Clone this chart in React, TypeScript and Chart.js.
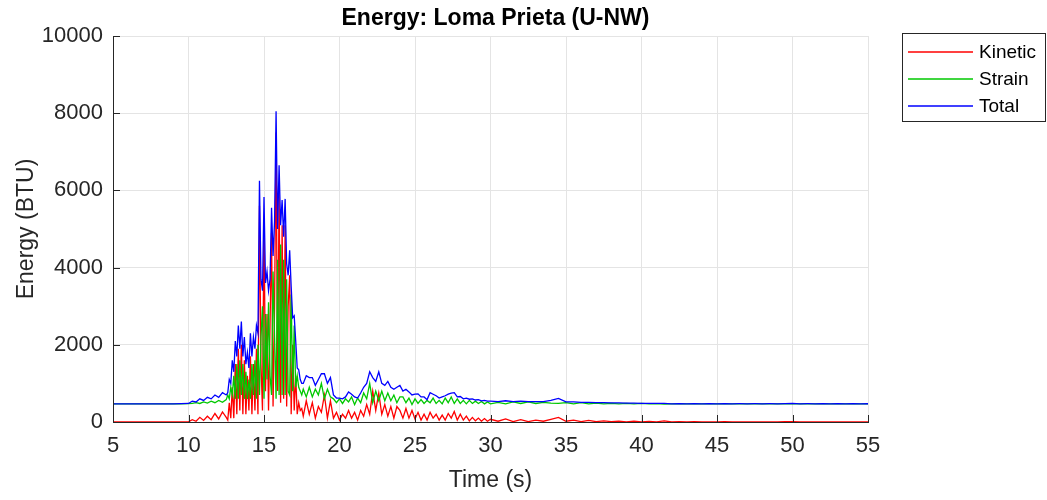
import React, { useEffect, useRef } from "react";
import { Chart, registerables } from "chart.js";

Chart.register(...registerables);

const chartTitle = "Energy: Loma Prieta (U-NW)";
const xAxisTitle = "Time (s)";
const yAxisTitle = "Energy (BTU)";
const seriesNames = ["Kinetic", "Strain", "Total"];
const seriesColors = ["#ff0000", "#00c800", "#0000ff"];
const xTickValues = [5, 10, 15, 20, 25, 30, 35, 40, 45, 50, 55];
const yTickValues = [0, 2000, 4000, 6000, 8000, 10000];

const time = [
  5, 5.5, 6, 6.5, 7, 7.5, 8, 8.5, 9, 9.5,
  10, 10.25, 10.5, 10.75, 11, 11.25, 11.5, 11.75, 12, 12.25, 12.5,
  12.6, 12.7, 12.8, 12.9, 13.0, 13.1, 13.2, 13.3, 13.4, 13.5,
  13.6, 13.7, 13.8, 13.9, 14.0, 14.1, 14.2, 14.3, 14.4, 14.5,
  14.6, 14.7, 14.8, 14.9, 15.0, 15.1, 15.2, 15.3, 15.4, 15.5,
  15.6, 15.7, 15.8, 15.9, 16.0, 16.1, 16.2, 16.3, 16.4, 16.5,
  16.6, 16.7, 16.8, 16.9, 17.0, 17.1, 17.2, 17.3, 17.4, 17.5,
  17.6, 17.8, 18.0, 18.2, 18.4, 18.6, 18.8, 19.0, 19.2, 19.4,
  19.6, 19.8, 20.0, 20.2, 20.4, 20.6, 20.8, 21.0, 21.2, 21.4,
  21.6, 21.8, 22.0, 22.2, 22.4, 22.6, 22.8, 23.0, 23.2, 23.4,
  23.6, 23.8, 24.0, 24.2, 24.4, 24.6, 24.8, 25.0, 25.2, 25.4,
  25.6, 25.8, 26.0, 26.2, 26.4, 26.6, 26.8, 27.0, 27.2, 27.4,
  27.6, 27.8, 28.0, 28.2, 28.4, 28.6, 28.8, 29.0, 29.2, 29.4,
  29.6, 29.8, 30.0,
  30.5, 31, 31.5, 32, 32.5, 33, 33.5, 34, 34.5, 35,
  35.5, 36, 36.5, 37, 37.5, 38, 38.5, 39, 39.5, 40,
  40.5, 41, 41.5, 42, 42.5, 43, 43.5, 44, 44.5, 45,
  45.5, 46, 46.5, 47, 47.5, 48, 48.5, 49, 49.5, 50,
  50.5, 51, 51.5, 52, 52.5, 53, 53.5, 54, 54.5, 55,
];

const kinetic = [
  0, 0, 0, 0, 0, 0, 0, 0, 0, 0,
  5, 60, 20, 120, 40, 150, 60, 220, 80, 260, 120,
  50, 500, 100, 900, 100, 1500, 200, 1900, 300, 2000,
  200, 1600, 200, 1200, 300, 1700, 200, 1500, 300, 1900,
  200, 5600, 1500, 300, 5200, 800, 2800, 300, 2500, 4900,
  400, 3000, 7500, 800, 6000, 500, 5100, 600, 5100, 400,
  3000, 3800, 200, 2000, 300, 1200, 200, 500, 300, 350,
  150, 550, 200, 500, 100, 400, 250, 700, 100, 550,
  100, 250, 50, 200, 100, 300, 100, 250, 50, 300,
  150, 450, 200, 800, 300, 750, 200, 450, 150, 400,
  100, 400, 300, 100, 350, 100, 300, 80, 250, 50,
  200, 50, 250, 100, 200, 50, 180, 50, 220, 100,
  270, 50, 200, 50, 150, 30, 120, 30, 100, 20,
  90, 20, 70,
  20, 80, 10, 60, 10, 50, 20, 70, 120, 20,
  50, 10, 40, 10, 30, 10, 25, 5, 20, 5,
  15, 5, 30, 0, 8, 0, 6, 0, 5, 0,
  8, 0, 5, 0, 5, 0, 4, 0, 8, 10,
  0, 4, 0, 3, 0, 3, 0, 2, 0, 2,
];

const strain = [
  470, 470, 470, 470, 470, 470, 470, 470, 470, 470,
  475, 480, 500, 480, 520, 490, 540, 500, 560, 510, 580,
  700, 600, 900, 700, 1200, 600, 1500, 600, 1600, 700,
  1500, 600, 1300, 600, 1100, 600, 1500, 700, 1600, 600,
  2000, 700, 2200, 3000, 600, 2800, 1100, 3100, 1200, 700,
  3900, 2200, 600, 4200, 700, 4600, 700, 4200, 700, 3700,
  800, 700, 3300, 800, 2500, 900, 1200, 900, 800, 700,
  850, 650, 900, 650, 850, 700, 1000, 600, 850, 650,
  600, 500, 600, 480, 600, 520, 650, 450, 620, 500,
  750, 600, 1000, 500, 800, 550, 800, 550, 750, 550,
  700, 500, 650, 650, 500, 620, 450, 600, 480, 580,
  480, 560, 500, 620, 480, 560, 470, 620, 500, 650,
  480, 600, 480, 560, 470, 560, 480, 540, 480, 530,
  470, 520, 470,
  510, 470, 520, 480, 520, 480, 510, 490, 480, 500,
  470, 500, 470, 490, 470, 485, 470, 485, 470, 480,
  470, 478, 465, 470, 468, 470, 468, 470, 469, 470,
  468, 470, 468, 470, 469, 470, 469, 470, 468, 468,
  470, 469, 470, 469, 470, 469, 470, 470, 470, 470,
];

const total = [
  470, 470, 470, 470, 470, 470, 470, 470, 470, 475,
  480, 540, 520, 600, 560, 640, 600, 700, 640, 760, 700,
  760, 1100, 1000, 1600, 1300, 2100, 1700, 2500, 1900, 2600,
  1700, 2200, 1500, 1800, 1400, 2300, 1700, 2200, 1900, 2500,
  2300, 6250, 3700, 3400, 5830, 3600, 3900, 3400, 3700, 5550,
  4300, 5200, 8050, 5000, 6650, 5100, 5750, 4800, 5780, 4100,
  3800, 4450, 3500, 2700, 2750, 2100, 1400, 1350, 1100, 1000,
  1000, 1200, 1150, 1150, 950, 1100, 1250, 1250, 1000, 1150,
  700, 620, 620, 600, 650, 780, 720, 650, 620, 750,
  900, 1000, 1300, 1150, 1050, 1300, 1000, 950, 1050, 900,
  850, 900, 950, 800, 850, 780, 700, 720, 730, 650,
  650, 580, 760, 720, 680, 620, 650, 680, 720, 750,
  760, 650, 660, 600, 620, 590, 600, 570, 580, 550,
  560, 540, 540,
  530, 550, 530, 540, 530, 530, 530, 560, 610, 520,
  520, 510, 510, 500, 500, 495, 495, 490, 490, 485,
  485, 483, 480, 472, 476, 472, 475, 472, 475, 472,
  477, 472, 474, 472, 474, 472, 474, 472, 478, 480,
  472, 474, 472, 473, 472, 473, 472, 473, 472, 473,
];

const seriesValues = [kinetic, strain, total];

const FONT = "'Liberation Sans', Arial, Helvetica, sans-serif";
const TEXT = "#262626";

const overlayPlugin = {
  id: "overlay",
  afterDraw(chart: any) {
    const ctx = chart.ctx as CanvasRenderingContext2D;
    const { left, right, top, bottom } = chart.chartArea;
    const xs = chart.scales.x;
    const ys = chart.scales.y;
    ctx.save();
    // axis lines
    ctx.strokeStyle = TEXT;
    ctx.lineWidth = 1;
    ctx.beginPath();
    ctx.moveTo(Math.round(left) + 0.5, Math.round(top));
    ctx.lineTo(Math.round(left) + 0.5, Math.round(bottom) + 0.5);
    ctx.lineTo(Math.round(right) + 1, Math.round(bottom) + 0.5);
    ctx.stroke();
    // inward ticks
    ctx.beginPath();
    xTickValues.forEach((v) => {
      const px = Math.round(xs.getPixelForValue(v)) + 0.5;
      ctx.moveTo(px, Math.round(bottom));
      ctx.lineTo(px, Math.round(bottom) - 7);
    });
    yTickValues.forEach((v) => {
      const py = Math.round(ys.getPixelForValue(v)) + 0.5;
      ctx.moveTo(Math.round(left), py);
      ctx.lineTo(Math.round(left) + 7, py);
    });
    ctx.stroke();

    // title
    ctx.fillStyle = "#000000";
    ctx.font = `bold 23px ${FONT}`;
    ctx.textAlign = "center";
    ctx.textBaseline = "alphabetic";
    ctx.fillText(chartTitle, (left + right) / 2 + 5, 25);

    // axis titles
    ctx.fillStyle = TEXT;
    ctx.font = `23px ${FONT}`;
    ctx.textBaseline = "middle";
    ctx.fillText(xAxisTitle, (left + right) / 2, 481);
    ctx.save();
    ctx.translate(27, (top + bottom) / 2);
    ctx.rotate(-Math.PI / 2);
    ctx.fillText(yAxisTitle, 0, 0);
    ctx.restore();

    // legend
    const bx = 902.5, by = 33.5, bw = 143, bh = 88;
    ctx.fillStyle = "#ffffff";
    ctx.fillRect(bx, by, bw, bh);
    ctx.strokeStyle = TEXT;
    ctx.lineWidth = 1;
    ctx.strokeRect(bx, by, bw, bh);
    const rows = [52, 79, 106];
    ctx.font = `19px ${FONT}`;
    ctx.textAlign = "left";
    ctx.textBaseline = "middle";
    seriesNames.forEach((name, i) => {
      ctx.strokeStyle = seriesColors[i];
      ctx.lineWidth = 1.3;
      ctx.beginPath();
      ctx.moveTo(908, rows[i]);
      ctx.lineTo(973, rows[i]);
      ctx.stroke();
      ctx.fillStyle = "#000000";
      ctx.fillText(name, 979, rows[i] + 1);
    });
    ctx.restore();
  },
};

export default function App() {
  const canvasRef = useRef<HTMLCanvasElement | null>(null);

  useEffect(() => {
    if (!canvasRef.current) return;
    const datasets = seriesNames.map((name, i) => ({
      label: name,
      data: time.map((t, j) => ({ x: t, y: seriesValues[i][j] })),
      borderColor: seriesColors[i],
      backgroundColor: seriesColors[i],
      borderWidth: 1.3,
      pointRadius: 0,
      tension: 0,
      fill: false,
      order: 3 - i,
    }));
    const chart = new Chart(canvasRef.current, {
      type: "line",
      data: { datasets },
      options: {
        animation: false,
        responsive: true,
        maintainAspectRatio: false,
        layout: { padding: { left: 0, right: 179, top: 36, bottom: 0 } },
        plugins: {
          legend: { display: false },
          title: { display: false },
          tooltip: { enabled: false },
        },
        scales: {
          x: {
            type: "linear",
            min: 5,
            max: 55,
            afterFit: (s: any) => {
              s.height = 78;
            },
            afterBuildTicks: (s: any) => {
              s.ticks = xTickValues.map((v) => ({ value: v }));
            },
            grid: { color: "#e4e4e4", lineWidth: 1, drawTicks: false },
            border: { display: false },
            ticks: {
              color: TEXT,
              font: { family: FONT, size: 22 },
              padding: 11,
              maxRotation: 0,
              callback: (v: any) => String(v),
            },
          },
          y: {
            type: "linear",
            min: 0,
            max: 10000,
            afterFit: (s: any) => {
              s.width = 113;
            },
            afterBuildTicks: (s: any) => {
              s.ticks = yTickValues.map((v) => ({ value: v }));
            },
            grid: { color: "#e4e4e4", lineWidth: 1, drawTicks: false },
            border: { display: false },
            ticks: {
              color: TEXT,
              font: { family: FONT, size: 22 },
              padding: 10,
              callback: (v: any) => String(v),
            },
          },
        },
      },
      plugins: [overlayPlugin],
    });
    return () => chart.destroy();
  }, []);

  return (
    <div style={{ position: "fixed", left: 0, top: 0, width: 1047, height: 500, background: "#ffffff" }}>
      <canvas ref={canvasRef} />
    </div>
  );
}
